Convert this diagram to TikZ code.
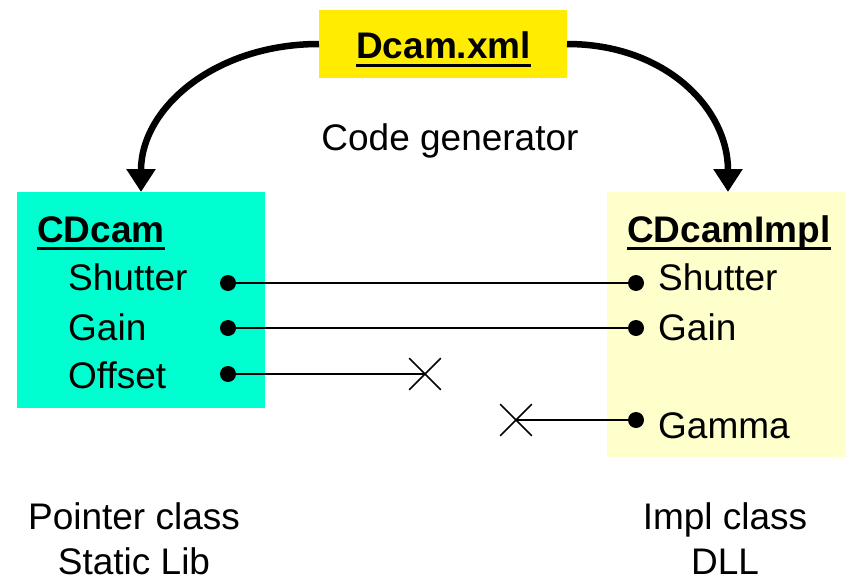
\documentclass[tikz,border=0pt]{standalone}
\usepackage{fontspec}
\setmainfont{Liberation Sans}
\usetikzlibrary{arrows.meta,shapes.misc}
\definecolor{xmlyellow}{RGB}{255,236,0}
\definecolor{ptrcyan}{RGB}{0,255,208}
\definecolor{implyellow}{RGB}{255,255,204}
\tikzset{
  txt/.style={inner sep=0pt, anchor=base west, font=\fontsize{37}{44}\selectfont},
  ctxt/.style={inner sep=0pt, anchor=base, font=\fontsize{37}{44}\selectfont},
  btxt/.style={txt, font=\fontsize{37}{44}\selectfont\bfseries},
  uline/.style={line width=3pt},
  pin/.style={circle, fill=black, inner sep=0pt, minimum size=16pt},
  nogo/.style={draw, cross out, line width=1.6pt, inner sep=0pt, minimum size=30pt},
  link/.style={line width=1.8pt},
  gen/.style={line width=6.5pt, -{Triangle[length=23pt,width=28pt]}},
}
\begin{document}
\begin{tikzpicture}[x=1pt,y=-1pt]
\useasboundingbox (0,0) rectangle (847,581);

% class boxes
\fill[xmlyellow] (319,10) rectangle (567,78);
\fill[ptrcyan] (17,192) rectangle (265,408);
\fill[implyellow] (607,192) rectangle (846,457);
\coordinate (xmlW) at (319,44);
\coordinate (xmlE) at (567,44);
\coordinate (ptrTop) at (141,192);
\coordinate (implTop) at (728,192);

% headings
\node[btxt] (xml) at (356,58) {Dcam.xml};
\draw[uline] ([yshift=-7pt]xml.base west) -- ([yshift=-7pt]xml.base east);
\node[btxt] (ptr) at (37,242) {CDcam};
\draw[uline] ([yshift=-6pt]ptr.base west) -- ([yshift=-6pt]ptr.base east);
\node[btxt] (impl) at (627,242) {CDcamImpl};
\draw[uline] ([yshift=-6pt]impl.base west) -- ([yshift=-6pt]impl.base east);

% code generator arrows
\draw[gen] (xmlW) .. controls (215,44) and (141,108) .. (ptrTop);
\draw[gen] (xmlE) .. controls (665,44) and (728,108) .. (implTop);
\node[ctxt] (cg) at (450,150) {Code generator};

% members of CDcam
\node[txt] (pS) at (68,290) {Shutter};
\node[txt] (pG) at (68,340) {Gain};
\node[txt] (pO) at (68,388) {Offset};
% members of CDcamImpl
\node[txt] (iS) at (658,290) {Shutter};
\node[txt] (iG) at (658,340) {Gain};
\node[txt] (iM) at (658,438) {Gamma};

% connection points
\node[pin] (dpS) at (228,283) {};
\node[pin] (dpG) at (228,328) {};
\node[pin] (dpO) at (228,374) {};
\node[pin] (diS) at (636,283) {};
\node[pin] (diG) at (636,328) {};
\node[pin] (diM) at (636,420) {};
\node[nogo] (xO) at (425,374) {};
\node[nogo] (xM) at (516,420) {};

\draw[link] (dpS) -- (diS);
\draw[link] (dpG) -- (diG);
\draw[link] (dpO) -- (xO.center);
\draw[link] (diM) -- (xM.center);

% captions
\node[ctxt] (c1) at (134,529) {Pointer class};
\node[ctxt] (c2) at (134,574) {Static Lib};
\node[ctxt] (c3) at (725,529) {Impl class};
\node[ctxt] (c4) at (725,574) {DLL};
\end{tikzpicture}
\end{document}
